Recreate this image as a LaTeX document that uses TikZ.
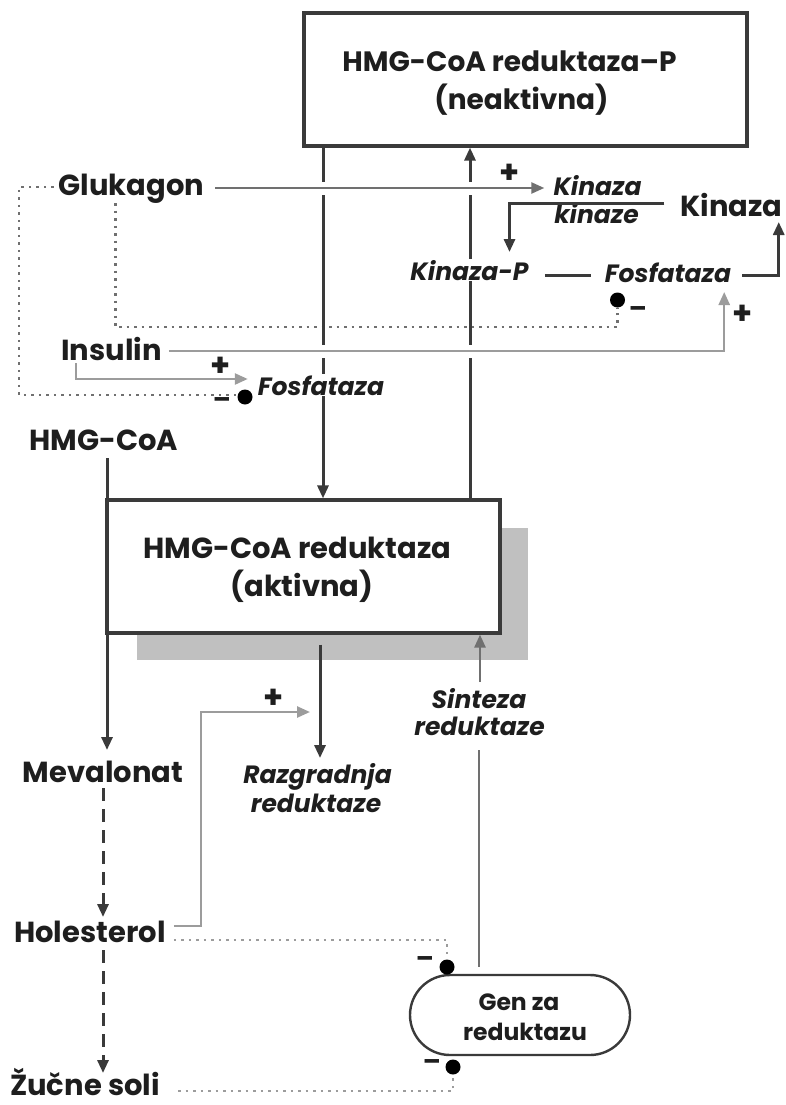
\documentclass[tikz,border=0pt]{standalone}
\usepackage{fontspec}
\setmainfont{Poppins}
\usetikzlibrary{arrows.meta,calc}
\pgfdeclarelayer{bg}
\pgfsetlayers{bg,main}
\definecolor{dk}{HTML}{3A3A3A}
\definecolor{md}{HTML}{707070}
\definecolor{lt}{HTML}{9C9C9C}
\definecolor{sh}{HTML}{C0C0C0}
\definecolor{tx}{HTML}{1E1E1E}
\begin{document}
\begin{tikzpicture}[x=1pt,y=-1pt,
  lab/.style={font=\bfseries\fontsize{29}{30}\selectfont, inner sep=0pt, text=tx, anchor=base},
  itl/.style={font=\bfseries\itshape\fontsize{25}{28}\selectfont, inner sep=1pt, text=tx, anchor=base},
  gtx/.style={font=\bfseries\fontsize{23.5}{25}\selectfont, inner sep=0pt, text=tx, anchor=base},
  bx/.style={draw=dk, line width=3.2pt, fill=white, inner sep=0pt},
  tip/.style={-{Triangle[length=13pt,width=11pt]}},
  dkline/.style={draw=dk, line width=3pt},
  mdline/.style={draw=md, line width=2.6pt},
  ltline/.style={draw=lt, line width=2.5pt},
  halo/.style={preaction={draw=white, line width=13pt, arrows=-}},
  dotl/.style={line width=2.2pt, dash pattern=on 2.5pt off 5pt},
  sign/.style={font=\bfseries\fontsize{32}{32}\selectfont, inner sep=0pt, text=tx},
  msign/.style={font=\bfseries\fontsize{26}{26}\selectfont, inner sep=0pt, text=tx},
  blob/.style={circle, fill=black, inner sep=0pt, minimum size=15pt}
]
\useasboundingbox (0,0) rectangle (786,1105);

% ---- boxes ----
\node[bx, minimum width=443pt, minimum height=133pt] (top) at (525.5,79.5) {};
\node[bx, minimum width=393pt, minimum height=133pt] (mid) at (303.5,566.5) {};
\node[draw=dk, line width=2.4pt, fill=white, rounded corners=40pt, minimum width=220pt, minimum height=80pt, inner sep=0pt] (gen) at (520,1015) {};
\begin{pgfonlayer}{bg}
\fill[sh] (137,528) rectangle (528,660);
\end{pgfonlayer}

% ---- text nodes ----
\node[lab, font=\bfseries\fontsize{28}{30}\selectfont] (top1) at (509.5,72) {HMG-CoA reduktaza–P};
\node[lab, font=\bfseries\fontsize{28}{30}\selectfont] (top2) at (521.5,110) {(neaktivna)};
\node[lab] (mid1) at (297.5,558) {HMG-CoA reduktaza};
\node[lab] (mid2) at (302,596) {(aktivna)};
\node[gtx] (gen1) at (519,1010) {Gen za};
\node[gtx] (gen2) at (525,1040) {reduktazu};

\node[lab] (gluk) at (131.5,195) {Glukagon};
\node[itl] (kk1) at (597.5,195) {Kinaza};
\node[itl] (kk2) at (596.5,223) {kinaze};
\node[lab] (kin) at (731.5,216) {Kinaza};
\node[itl, fill=white] (kp) at (469.5,280) {Kinaza-P};
\node[itl] (fosR) at (668,282) {Fosfataza};
\node[lab] (ins) at (111.5,360) {Insulin};
\node[itl, fill=white] (fosL) at (321,395) {Fosfataza};
\node[lab] (hmg) at (104,450) {HMG-CoA};
\node[lab] (mev) at (103,782) {Mevalonat};
\node[lab] (hol) at (90,942) {Holesterol};
\node[lab] (zuc) at (85,1095) {Žučne soli};
\node[itl] (razg1) at (317.5,783) {Razgradnja};
\node[itl] (razg2) at (316,812) {reduktaze};
\node[itl] (sint1) at (479,708) {Sinteza};
\node[itl] (sint2) at (479.5,735) {reduktaze};

% dots
\node[blob] (d1) at (617.5,300) {};
\node[blob] (d2) at (245,397) {};
\node[blob] (d3) at (447,967) {};
\node[blob] (d4) at (453,1067) {};
\coordinate (rz) at (310,712);

\begin{pgfonlayer}{bg}
% ---- dotted inhibitory lines ----
\draw[dotl, draw=md] ($(gluk.base west)+(-5,-8)$) -| ($(d2.center)+(-226,-2)$) -- ($(d2.west)+(0,-2)$);
\draw[dotl, draw=md] ($(gluk.base west)+(57,8)$) |- ($(d1.center)+(0,27)$) -- (d1.south);
\draw[dotl, draw=lt] ($(hol.base east)+(8,-2)$) -| (d3.north);
\draw[dotl, draw=lt] ($(zuc.base east)+(18,-4)$) -| (d4.south);
% main vertical lines
\draw[dkline, tip] (top.south -| 323,0) -- (mid.north -| 323,0);
\draw[dkline, tip] (mid.north -| 470,0) -- (top.south -| 470,0);
\end{pgfonlayer}

% ---- connectors ----
\draw[dkline, tip] ($(hmg.base)+(3,8)$) -- ($(mev.base)+(4,-32)$);
\draw[md, line width=2.4pt, halo, tip] ($(gluk.base east)+(11,-7)$) -- ($(kk1.base west)+(-8,-7)$);
\draw[dkline, tip] ($(kin.base west)+(-16,-13)$) -| ($(kp.base)+(40,-28)$);
\draw[dkline] ($(kp.base east)+(15,-5)$) -- ($(fosR.base west)+(-13,-7)$);
\draw[dkline, tip] ($(fosR.base east)+(10,-7)$) -| ($(kin.base east)+(-4,6)$);
\draw[ltline, halo, tip] ($(ins.base east)+(7,-9)$) -| ($(fosR.base east)+(-8,10)$);
\draw[ltline, tip] ($(ins.base west)+(15,3)$) |- ($(fosL.base west)+(-9,-16)$);

\draw[dkline, dash pattern=on 13pt off 8pt, tip] ($(mev.base)+(0,6)$) -- ($(hol.base)+(13,-25)$);
\draw[dkline, dash pattern=on 13pt off 8pt, tip] ($(hol.base)+(13,8)$) -- ($(zuc.base)+(18,-22)$);

\draw[dkline, tip] ($(mid.south -| 320,0)+(0,10)$) -- ($(razg1.base)+(2.5,-25)$);
\draw[ltline, tip] ($(hol.base east)+(8,-16)$) -- ++(27,0) |- (rz);

\draw[mdline, tip] ($(sint1.base)+(1,-26)$) -- (mid.south -| 480,0);
\draw[mdline] ($(gen.north -| 479,0)+(0,-7)$) -- ($(sint2.base)+(-0.5,15)$);

% ---- signs ----
\node[sign] (p1) at (510,174) {+};
\node[msign] (m1) at (638,312) {–};
\node[sign] (p2) at (743,315) {+};
\node[sign] (p3) at (221,367) {+};
\node[msign] (m2) at (222,403) {–};
\node[sign] (p4) at (274,699) {+};
\node[msign] (m3) at (425,962) {–};
\node[msign] (m4) at (432,1065) {–};
\end{tikzpicture}
\end{document}
